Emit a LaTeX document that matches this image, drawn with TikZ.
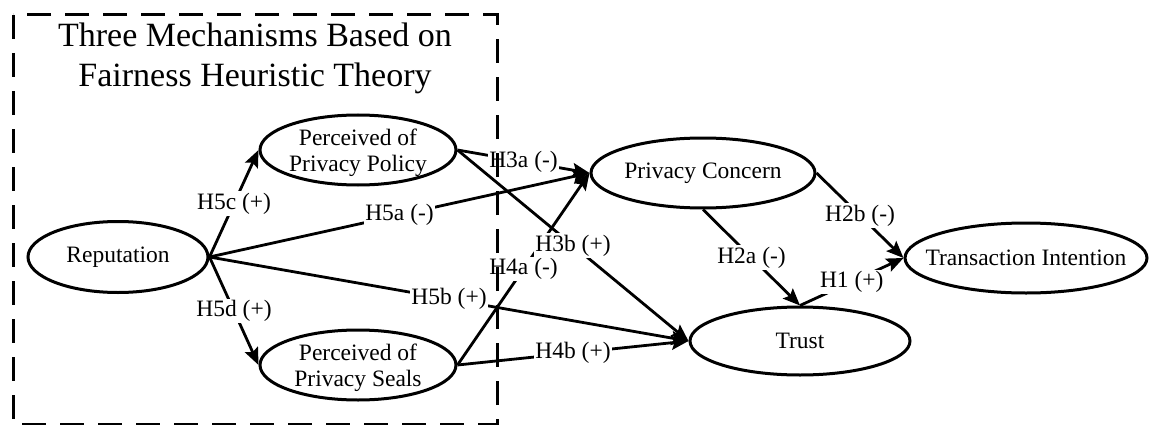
\documentclass[tikz,border=0pt]{standalone}
\usepackage{fontspec}
\setmainfont{Liberation Serif}
\usetikzlibrary{shapes.geometric,arrows.meta}
\begin{document}
\begin{tikzpicture}[x=1pt,y=-1pt,
 ell/.style={ellipse, draw, line width=3pt, inner sep=0pt},
 txt/.style={align=center, font=\fontsize{23.5}{26}\selectfont, inner sep=0pt},
 lab/.style={fill=white, inner sep=1.5pt, font=\fontsize{23.5}{26}\selectfont, pos=.5},
 arr/.style={line width=2.8pt, -{Stealth[length=17pt,width=14pt,inset=3pt]}},
 frame/.style={line width=3pt, dash pattern=on 24pt off 14pt},
 ttl/.style={anchor=base, font=\fontsize{34}{40}\selectfont, inner sep=0pt}]
\useasboundingbox (0,0) rectangle (1150,425);
% ellipses
\node[ell, minimum width=180pt, minimum height=71pt] (rep) at (118,257) {};
\node[ell, minimum width=196pt, minimum height=70pt] (ppp) at (358,150) {};
\node[ell, minimum width=196pt, minimum height=70pt] (pps) at (358,365) {};
\node[ell, minimum width=224pt, minimum height=70pt] (pc) at (703,173) {};
\node[ell, minimum width=220pt, minimum height=68pt] (tr) at (800,341) {};
\node[ell, minimum width=242pt, minimum height=70pt] (ti) at (1026,258) {};
% texts
\node[txt] (rep-t) at (rep) {Reputation};
\node[txt] (ppp-t) at ([yshift=-3pt]ppp.center) {Perceived of\\Privacy Policy};
\node[txt] (pps-t) at ([yshift=-3pt]pps.center) {Perceived of\\Privacy Seals};
\node[txt] (pc-t) at (pc) {Privacy Concern};
\node[txt] (tr-t) at (tr) {Trust};
\node[txt] (ti-t) at (ti) {Transaction Intention};
% edges
\draw[arr] (rep.east) -- node[lab] (l5c) {H5c (+)} (ppp.west);
\draw[arr] (rep.east) -- node[lab] (l5d) {H5d (+)} (pps.west);
\draw[arr] (rep.east) -- node[lab] (l5a) {H5a (-)} (pc.west);
\draw[arr] (rep.east) -- node[lab] (l5b) {H5b (+)} (tr.west);
\draw[arr] (pps.east) -- node[lab] (l4a) {H4a (-)} (pc.west);
\draw[arr] (ppp.east) -- node[lab] (l3a) {H3a (-)} (pc.west);
\draw[arr] (ppp.east) -- node[lab] (l3b) {H3b (+)} (tr.west);
\draw[arr] (pps.east) -- node[lab] (l4b) {H4b (+)} (tr.west);
\draw[arr] (pc.south) -- node[lab] (l2a) {H2a (-)} (tr.north);
\draw[arr] (pc.east) -- node[lab] (l2b) {H2b (-)} (ti.west);
\draw[arr] (tr.north) -- node[lab] (l1) {H1 (+)} (ti.west);
% frame and title
\node[ttl] (title1) at (255,47) {Three Mechanisms Based on};
\node[ttl] (title2) at (255,87) {Fairness Heuristic Theory};
\draw[frame] (13,15) rectangle (497,424);
\end{tikzpicture}
\end{document}
